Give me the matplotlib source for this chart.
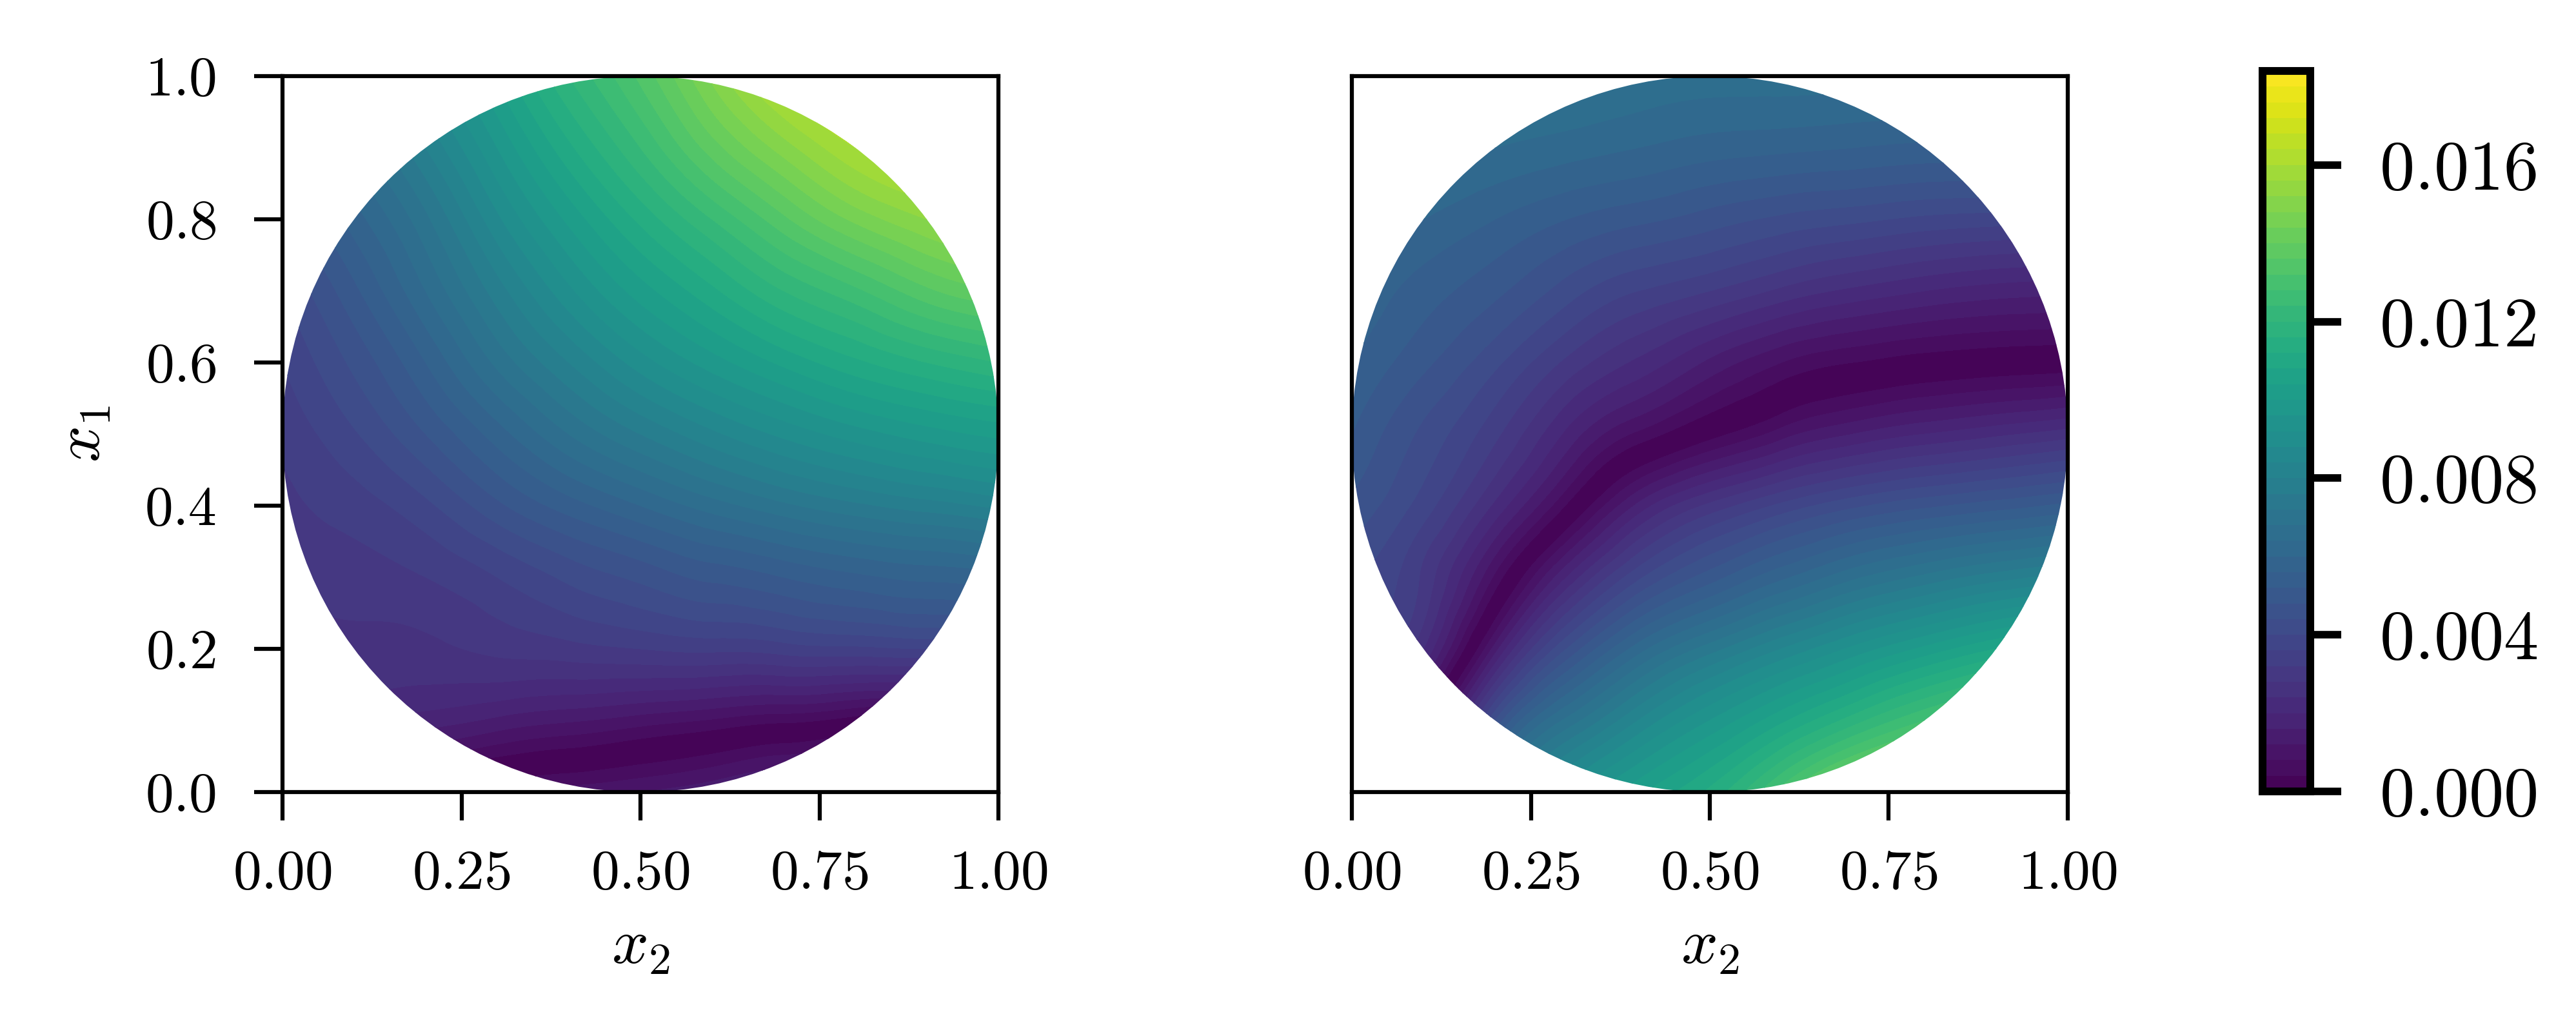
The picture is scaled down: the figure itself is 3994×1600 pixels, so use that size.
import numpy as np
import matplotlib
matplotlib.use('agg')
import matplotlib.pyplot as plt
import matplotlib.tri as tri
from matplotlib.patches import Circle
from matplotlib.ticker import FormatStrFormatter

plt.rcParams['mathtext.fontset'] = 'cm'
plt.rcParams['font.family'] = ['cmr10', 'DejaVu Sans']
plt.rcParams['axes.formatter.use_mathtext'] = True

# grid the values were read on, x2 across and x1 upwards
x2_grid = [0.0, 0.1, 0.2, 0.3, 0.4, 0.5, 0.6, 0.7, 0.8, 0.9, 1.0]
x1_grid = [0.0, 0.1, 0.2, 0.3, 0.4, 0.5, 0.6, 0.7, 0.8, 0.9, 1.0]

# values in 1e-3. Sign flips across the dark valley,
# the plot shows the magnitude
left_values = [
    [0.0, -0.3, -0.5, -0.8, -1.0, -1.2, -1.5, -1.9, -2.2, -2.5, -2.8],
    [2.2, 2.0, 1.8, 1.5, 1.25, 1.0, 0.75, 0.5, 0.2, -0.1, -0.4],
    [2.7, 2.7, 2.7, 2.9, 3.05, 3.2, 3.3, 3.4, 3.5, 3.6, 3.7],
    [2.95, 3.0, 3.2, 3.6, 4.1, 4.5, 4.9, 5.2, 5.5, 5.7, 5.9],
    [3.1, 3.4, 3.9, 4.7, 5.4, 6.0, 6.6, 7.1, 7.5, 7.8, 8.1],
    [3.3, 3.95, 4.8, 5.8, 6.8, 7.6, 8.3, 8.9, 9.4, 9.8, 10.1],
    [3.6, 4.5, 5.6, 6.9, 8.0, 9.0, 9.8, 10.5, 11.1, 11.6, 12.0],
    [4.0, 5.1, 6.4, 7.8, 9.1, 10.2, 11.1, 12.0, 12.7, 13.5, 14.0],
    [4.6, 5.8, 7.1, 8.7, 10.1, 11.3, 12.4, 13.5, 14.5, 15.2, 15.8],
    [5.4, 6.6, 8.0, 9.6, 11.1, 12.4, 13.8, 15.0, 16.0, 16.6, 17.0],
    [6.0, 7.4, 8.9, 10.5, 12.0, 13.3, 14.9, 16.4, 17.2, 17.5, 17.8],
]
right_values = [
    [1.0, -3.0, -6.8, -9.0, -10.3, -11.3, -13.0, -14.8, -15.6, -16.4, -17.0],
    [2.4, 0.0, -4.4, -6.9, -8.4, -9.6, -10.7, -11.8, -12.8, -13.6, -14.3],
    [3.3, 2.4, -1.4, -4.4, -6.2, -7.4, -8.4, -9.3, -10.1, -10.8, -11.4],
    [4.1, 3.1, 0.7, -2.0, -3.9, -5.0, -5.9, -6.7, -7.3, -7.8, -8.2],
    [4.7, 3.8, 2.3, 0.35, -1.7, -2.9, -3.7, -4.3, -4.7, -5.0, -5.3],
    [5.2, 4.3, 3.3, 1.9, 0.7, -0.2, -1.0, -1.6, -2.0, -2.3, -2.6],
    [5.6, 4.9, 4.1, 3.1, 2.3, 1.5, 0.8, 0.4, 0.15, 0.0, -0.1],
    [6.0, 5.4, 4.9, 4.2, 3.6, 3.2, 2.7, 2.3, 2.0, 1.8, 1.7],
    [6.4, 6.0, 5.6, 5.2, 4.9, 4.6, 4.3, 4.1, 3.9, 3.8, 3.7],
    [6.8, 6.6, 6.4, 6.2, 6.0, 5.8, 5.7, 5.6, 5.5, 5.5, 5.5],
    [7.2, 7.0, 6.9, 6.9, 6.7, 6.6, 6.6, 6.6, 6.6, 6.6, 6.6],
]

vmax = 0.0184
n_levels = 46
x_ticks = [0.0, 0.25, 0.5, 0.75, 1.0]
y_ticks = [0.0, 0.2, 0.4, 0.6, 0.8, 1.0]
cbar_ticks = [0.0, 0.004, 0.008, 0.012, 0.016]


def draw_disc(ax, values, levels):
    xx, yy = np.meshgrid(x2_grid, x1_grid)
    triang = tri.Triangulation(xx.ravel(), yy.ravel())
    z = np.array(values).ravel() * 1e-3
    # refine so the contours come out smooth, abs keeps the valley sharp
    fine, z_fine = tri.UniformTriRefiner(triang).refine_field(z, subdiv=4)
    cs = ax.tricontourf(fine, np.abs(z_fine), levels=levels, cmap='viridis')
    cs.set_clip_path(Circle((0.5, 0.5), 0.5, transform=ax.transData))
    ax.set_xlim(0, 1)
    ax.set_ylim(0, 1)
    ax.set_xticks(x_ticks)
    ax.xaxis.set_major_formatter(FormatStrFormatter('$%.2f$'))
    ax.set_xlabel('$x_2$', fontsize=12, labelpad=3.5)
    ax.tick_params(length=5.3, width=0.75, labelsize=10.5)
    ax.tick_params(axis='y', pad=7)
    ax.tick_params(axis='x', pad=5.5)
    for s in ax.spines.values():
        s.set_linewidth(0.75)
    return cs


W, H = 3994, 1600
fig = plt.figure(figsize=(W / 600, H / 600), dpi=600)


def px_axes(left, right, top, bottom):
    return fig.add_axes([left / W, (H - bottom) / H, (right - left) / W, (bottom - top) / H])


levels = np.linspace(0, vmax, n_levels + 1)

ax1 = px_axes(438, 1548, 118, 1228)
cs = draw_disc(ax1, left_values, levels)
ax1.set_yticks(y_ticks)
ax1.yaxis.set_major_formatter(FormatStrFormatter('$%.1f$'))
ax1.set_ylabel('$x_1$', fontsize=12, labelpad=6)

ax2 = px_axes(2096, 3206, 118, 1228)
draw_disc(ax2, right_values, levels)
ax2.set_yticks([])

cax = px_axes(3508, 3582, 110, 1227)
cbar = fig.colorbar(cs, cax=cax, ticks=cbar_ticks, format=FormatStrFormatter('$%.3f$'))
cbar.outline.set_linewidth(1.45)
cbar.ax.tick_params(length=5.8, width=1.4, pad=7, labelsize=13)

fig.savefig('out.png', dpi=600)
